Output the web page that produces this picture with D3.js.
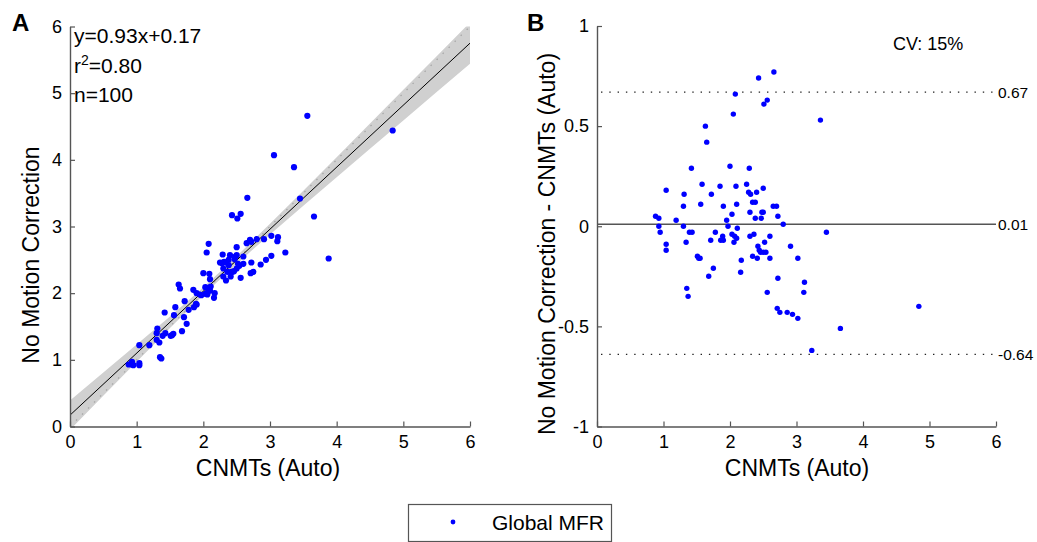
<!DOCTYPE html>
<html>
<head>
<meta charset="utf-8">
<title>Global MFR: CNMTs vs No Motion Correction</title>
<script src="https://d3js.org/d3.v7.min.js"></script>
<style>
body { margin: 0; background: #fff; }
text { font-family: "Liberation Sans", Arial, sans-serif; fill: #000; }
</style>
</head>
<body>
<div id="chart"></div>
<script>
(function () {
	"use strict";

	// CNMTs (Auto) global MFR for each case
	var cnmt = [2.43,2.08,2.51,2.56,2.05,1.63,1.65,1.42,2.00,2.29,
		1.58,1.85,2.09,2.25,1.04,2.66,3.36,2.50,1.31,1.72,
		2.28,2.31,2.40,1.30,1.56,1.90,2.10,2.34,2.38,2.03,
		2.30,2.38,2.48,2.50,2.47,0.88,0.93,0.93,0.95,1.19,
		1.30,1.95,1.97,1.39,1.43,2.11,1.78,1.89,1.86,1.90,
		1.71,2.03,2.07,2.10,2.06,2.30,2.36,1.34,1.04,1.04,
		2.42,2.44,2.46,2.52,2.50,2.54,2.60,2.34,2.41,2.60,
		1.51,1.53,1.55,2.17,2.16,1.75,1.68,1.35,1.37,2.56,
		2.65,2.70,2.72,2.80,3.45,2.91,3.02,2.72,3.12,3.11,
		2.71,2.75,2.86,2.94,3.02,4.84,3.66,3.23,3.56,3.06,3.88];

	// No Motion Correction global MFR, same order
	var noMC = [3.17,2.74,3.12,3.19,2.61,2.13,2.07,1.71,2.30,2.58,
		1.79,2.05,2.29,2.46,1.22,3.43,3.89,2.69,1.47,1.88,
		2.45,2.47,2.57,1.40,1.67,2.00,2.21,2.46,2.50,2.09,
		2.37,2.42,2.55,2.57,2.51,0.93,0.97,0.93,0.92,1.22,
		1.30,1.98,1.97,1.36,1.40,2.10,1.75,1.84,1.79,1.83,
		1.64,1.99,2.02,2.04,1.98,2.25,2.32,1.26,0.95,0.92,
		2.32,2.32,2.33,2.44,2.37,2.41,2.55,2.19,2.25,2.44,
		1.36,1.37,1.39,2.00,1.93,1.54,1.43,1.04,1.02,2.23,
		2.75,2.80,2.77,2.81,3.42,2.81,2.86,2.46,2.84,2.78,
		2.30,2.32,2.43,2.50,2.56,4.44,3.15,2.61,4.66,4.07,2.52];

	// ticks
	var xTicks = [0, 1, 2, 3, 4, 5, 6];
	var yTicksA = [0, 1, 2, 3, 4, 5, 6];
	var yTicksB = [-1, -0.5, 0, 0.5, 1];

	// regression fit and its confidence band (half width at bandX)
	var fitSlope = 0.93;
	var fitIntercept = 0.17;
	var bandX = [0, 1, 2, 3, 4, 5, 6];
	var bandHalf = [0.22, 0.13, 0.06, 0.08, 0.15, 0.23, 0.31];

	// Bland-Altman lines
	var meanDiff = 0.01;
	var loaUpper = 0.67;
	var loaLower = -0.64;

	var width = 1037;
	var height = 542;

	var svg = d3.select("#chart")
		.append("svg")
		.attr("width", width)
		.attr("height", height);

	var points = cnmt.map(function (c, i) {
		return { x: c, y: noMC[i], d: noMC[i] - c };
	});

	var fmt = function (d) { return String(d); };
	var axisColor = "#555";

	function styleAxis(g) {
		g.selectAll("path").attr("stroke", axisColor).attr("stroke-width", 1.4);
		g.selectAll("line").attr("stroke", axisColor).attr("stroke-width", 1.2);
		g.selectAll("text").style("font-family", '"Liberation Sans", Arial, sans-serif')
			.attr("fill", "#000").attr("font-size", 18);
	}

	// ---------- Panel A ----------
	var xA = d3.scaleLinear().domain([0, 6]).range([70, 470]);
	var yA = d3.scaleLinear().domain([0, 6]).range([426.5, 26.5]);

	svg.append("clipPath").attr("id", "clipA")
		.append("rect")
		.attr("x", xA(0)).attr("y", yA(6))
		.attr("width", xA(6) - xA(0)).attr("height", yA(0) - yA(6));

	var plotA = svg.append("g").attr("clip-path", "url(#clipA)");

	var band = bandX.map(function (x, i) {
		var f = fitSlope * x + fitIntercept;
		return { x: x, lo: f - bandHalf[i], hi: f + bandHalf[i] };
	});

	plotA.append("path")
		.datum(band)
		.attr("fill", "#d0d0d0")
		.attr("d", d3.area()
			.curve(d3.curveNatural)
			.x(function (d) { return xA(d.x); })
			.y0(function (d) { return yA(d.lo); })
			.y1(function (d) { return yA(d.hi); }));

	// line of identity
	plotA.append("line")
		.attr("x1", xA(0)).attr("y1", yA(0))
		.attr("x2", xA(6)).attr("y2", yA(6))
		.attr("stroke", "#a8a8a8")
		.attr("stroke-width", 1.3)
		.attr("stroke-dasharray", "1.5,7");

	// regression line
	plotA.append("line")
		.attr("x1", xA(0)).attr("y1", yA(fitIntercept))
		.attr("x2", xA(6)).attr("y2", yA(fitSlope * 6 + fitIntercept))
		.attr("stroke", "#000")
		.attr("stroke-width", 1);

	plotA.selectAll("circle")
		.data(points.filter(function (d) { return d.y >= 0 && d.y <= 6; }))
		.enter().append("circle")
		.attr("cx", function (d) { return xA(d.x); })
		.attr("cy", function (d) { return yA(d.y); })
		.attr("r", 3.1)
		.attr("fill", "#0000ff");

	svg.append("g")
		.attr("transform", "translate(0," + yA(0) + ")")
		.call(d3.axisBottom(xA).tickValues(xTicks).tickFormat(fmt)
			.tickSizeInner(-5).tickSizeOuter(0).tickPadding(9))
		.call(styleAxis);

	svg.append("g")
		.attr("transform", "translate(" + xA(0) + ",0)")
		.call(d3.axisLeft(yA).tickValues(yTicksA).tickFormat(fmt)
			.tickSizeInner(-5).tickSizeOuter(0).tickPadding(8))
		.call(styleAxis);

	svg.append("text")
		.attr("x", 268).attr("y", 476)
		.attr("text-anchor", "middle")
		.attr("font-size", 23)
		.text("CNMTs (Auto)");

	svg.append("text")
		.attr("transform", "translate(39,255) rotate(-90)")
		.attr("text-anchor", "middle")
		.attr("font-size", 23)
		.text("No Motion Correction");

	svg.append("text")
		.attr("x", 74).attr("y", 43)
		.attr("font-size", 21)
		.text("y=0.93x+0.17");

	var r2 = svg.append("text")
		.attr("x", 74).attr("y", 73)
		.attr("font-size", 21);
	r2.append("tspan").text("r");
	r2.append("tspan").attr("dy", -8).attr("font-size", 14).text("2");
	r2.append("tspan").attr("dy", 8).text("=0.80");

	svg.append("text")
		.attr("x", 74).attr("y", 102)
		.attr("font-size", 21)
		.text("n=100");

	svg.append("text")
		.attr("x", 12).attr("y", 31)
		.attr("font-size", 24)
		.attr("font-weight", "bold")
		.text("A");

	// ---------- Panel B ----------
	var xB = d3.scaleLinear().domain([0, 6]).range([597, 996]);
	var yB = d3.scaleLinear().domain([-1, 1]).range([426.5, 26]);

	svg.append("clipPath").attr("id", "clipB")
		.append("rect")
		.attr("x", xB(0)).attr("y", yB(1))
		.attr("width", xB(6) - xB(0)).attr("height", yB(-1) - yB(1));

	var plotB = svg.append("g").attr("clip-path", "url(#clipB)");

	plotB.append("line")
		.attr("x1", xB(0)).attr("x2", xB(6))
		.attr("y1", yB(meanDiff)).attr("y2", yB(meanDiff))
		.attr("stroke", "#555")
		.attr("stroke-width", 1.6);

	[loaUpper, loaLower].forEach(function (v) {
		plotB.append("line")
			.attr("x1", xB(0) + 4).attr("x2", xB(6))
			.attr("y1", yB(v)).attr("y2", yB(v))
			.attr("stroke", "#222")
			.attr("stroke-width", 1.3)
			.attr("stroke-dasharray", "1.4,6.9");
	});

	// points whose difference falls outside the axis limits are not drawn
	plotB.selectAll("circle")
		.data(points.filter(function (d) { return d.d >= -1 && d.d <= 1; }))
		.enter().append("circle")
		.attr("cx", function (d) { return xB(d.x); })
		.attr("cy", function (d) { return yB(d.d); })
		.attr("r", 2.7)
		.attr("fill", "#0000ff");

	svg.append("g")
		.attr("transform", "translate(0," + yB(-1) + ")")
		.call(d3.axisBottom(xB).tickValues(xTicks).tickFormat(fmt)
			.tickSizeInner(-5).tickSizeOuter(0).tickPadding(9))
		.call(styleAxis);

	svg.append("g")
		.attr("transform", "translate(" + xB(0) + ",0)")
		.call(d3.axisLeft(yB).tickValues(yTicksB).tickFormat(fmt)
			.tickSizeInner(-5).tickSizeOuter(0).tickPadding(8))
		.call(styleAxis);

	[[meanDiff, "0.01"], [loaUpper, "0.67"], [loaLower, "-0.64"]].forEach(function (p) {
		svg.append("text")
			.attr("x", 998).attr("y", yB(p[0]))
			.attr("dy", "0.35em")
			.attr("font-size", 15.5)
			.text(p[1]);
	});

	svg.append("text")
		.attr("x", 893).attr("y", 50)
		.attr("font-size", 18)
		.text("CV: 15%");

	svg.append("text")
		.attr("x", 797).attr("y", 476)
		.attr("text-anchor", "middle")
		.attr("font-size", 23)
		.text("CNMTs (Auto)");

	svg.append("text")
		.attr("transform", "translate(555,244) rotate(-90)")
		.attr("text-anchor", "middle")
		.attr("font-size", 23)
		.text("No Motion Correction - CNMTs (Auto)");

	svg.append("text")
		.attr("x", 527).attr("y", 31)
		.attr("font-size", 24)
		.attr("font-weight", "bold")
		.text("B");

	// ---------- Legend ----------
	var legend = svg.append("g");
	legend.append("rect")
		.attr("x", 408.5).attr("y", 504.5)
		.attr("width", 203).attr("height", 37)
		.attr("fill", "#fff")
		.attr("stroke", "#555")
		.attr("stroke-width", 1.2);
	legend.append("circle")
		.attr("cx", 453).attr("cy", 522)
		.attr("r", 2.4)
		.attr("fill", "#0000ff");
	legend.append("text")
		.attr("x", 492).attr("y", 530)
		.attr("font-size", 21)
		.text("Global MFR");
})();
</script>
</body>
</html>
